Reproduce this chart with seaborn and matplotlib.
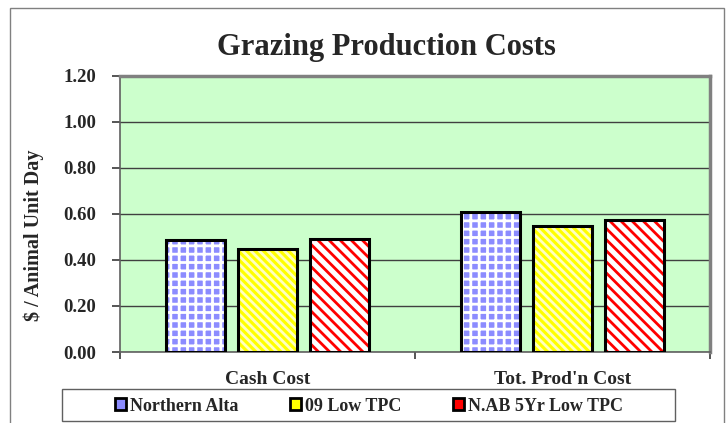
import pandas as pd
import matplotlib.pyplot as plt
import seaborn as sns
from matplotlib.patches import Patch, Rectangle

# Chart data
categories = ["Cash Cost", "Tot. Prod'n Cost"]
series = ["Northern Alta", "09 Low TPC", "N.AB 5Yr Low TPC"]
northern_alta = [0.487, 0.607]
low_tpc_09 = [0.448, 0.548]
nab_5yr_low_tpc = [0.490, 0.574]
y_ticks = [0.0, 0.2, 0.4, 0.6, 0.8, 1.0, 1.2]

# Long table for seaborn
rows = []
for name, vals in zip(series, [northern_alta, low_tpc_09, nab_5yr_low_tpc]):
    for cat, v in zip(categories, vals):
        rows.append({"category": cat, "series": name, "value": v})
df = pd.DataFrame(rows)

sns.set_theme(style="white")
plt.rcParams['font.family'] = ['Liberation Serif', 'DejaVu Serif']
plt.rcParams['hatch.linewidth'] = 2.0

# face colour, hatch colour, hatch pattern per series
styles = {
    "Northern Alta": ("#8C8CFF", "white", "++"),
    "09 Low TPC": ("#FFFF00", "#FFFFC0", "\\\\\\\\"),
    "N.AB 5Yr Low TPC": ("white", "#FF0000", "\\\\\\"),
}

fig = plt.figure(figsize=(7.26, 4.23), dpi=100)
ax = fig.add_axes([120 / 726, 1 - 352 / 423, 590 / 726, 276 / 423])

sns.barplot(data=df, x="category", y="value", hue="series", order=categories,
            hue_order=series, palette=[styles[s][0] for s in series],
            width=0.732, gap=0.167, ax=ax, legend=False)

# Excel-like pattern fills with black outlines
for cont, name in zip(ax.containers, series):
    face, hcol, hatch = styles[name]
    for bar in cont:
        bar.set_facecolor(face)
        bar.set_edgecolor(hcol)
        bar.set_hatch(hatch)
        bar.set_linewidth(0)
        ax.add_patch(Rectangle(bar.get_xy(), bar.get_width(), bar.get_height(),
                               fill=False, edgecolor="black", linewidth=2.2, zorder=3))

ax.set_facecolor("#CCFFCC")
ax.set_ylim(0, 1.2)
ax.set_xlim(-0.5, 1.5)
ax.set_yticks(y_ticks)
ax.set_yticklabels([f"{t:.2f}" for t in y_ticks], fontsize=13.5, fontweight="bold")
ax.yaxis.grid(True, color="#404040", linewidth=1)
ax.set_axisbelow(True)
ax.tick_params(axis="y", which="major", left=True, length=6, color="#404040", pad=11)

# boundary ticks, labels at category centres
ax.set_xticks([-0.5, 0.5, 1.5])
ax.set_xticklabels(["", "", ""])
ax.set_xticks([0, 1], minor=True)
ax.set_xticklabels(categories, minor=True, fontsize=14, fontweight="bold")
ax.tick_params(axis="x", which="major", bottom=True, length=5, color="#404040")
ax.tick_params(axis="x", which="minor", bottom=False, length=0, pad=14)
ax.set_xlabel("")
ax.set_ylabel("")

for side in ["top", "right"]:
    ax.spines[side].set_color("#808080")
    ax.spines[side].set_linewidth(2.5)
for side in ["left", "bottom"]:
    ax.spines[side].set_color("#606060")
    ax.spines[side].set_linewidth(1.2)

fig.text(386 / 726, 1 - 47 / 423, "Grazing Production Costs", ha="center", va="center",
         fontsize=22, fontweight="bold")
fig.text(34 / 726, 1 - 235 / 423, "$ / Animal Unit Day", ha="center", va="center",
         rotation=90, fontsize=14.5, fontweight="bold")

# outer chart border
fig.add_artist(Rectangle((10 / 726, -0.05), 714 / 726, 1.05 - 8 / 423, transform=fig.transFigure,
                         fill=False, edgecolor="#808080", linewidth=1))

# legend box and entries
fig.add_artist(Rectangle((62 / 726, 2 / 423), 613 / 726, 32 / 423, transform=fig.transFigure,
                         fill=False, edgecolor="#606060", linewidth=1))
handles = [Patch(facecolor=styles[s][0] if s != "N.AB 5Yr Low TPC" else "#FF0000",
                 edgecolor="black", linewidth=2) for s in series]
fig.legend(handles, series, loc="center", bbox_to_anchor=(369 / 726, 1 - 406 / 423),
           ncol=3, frameon=False, prop={"size": 13, "weight": "bold"},
           handlelength=0.6, handleheight=0.6, handletextpad=0.2, columnspacing=2.9)

plt.savefig("out.png", dpi=100)
